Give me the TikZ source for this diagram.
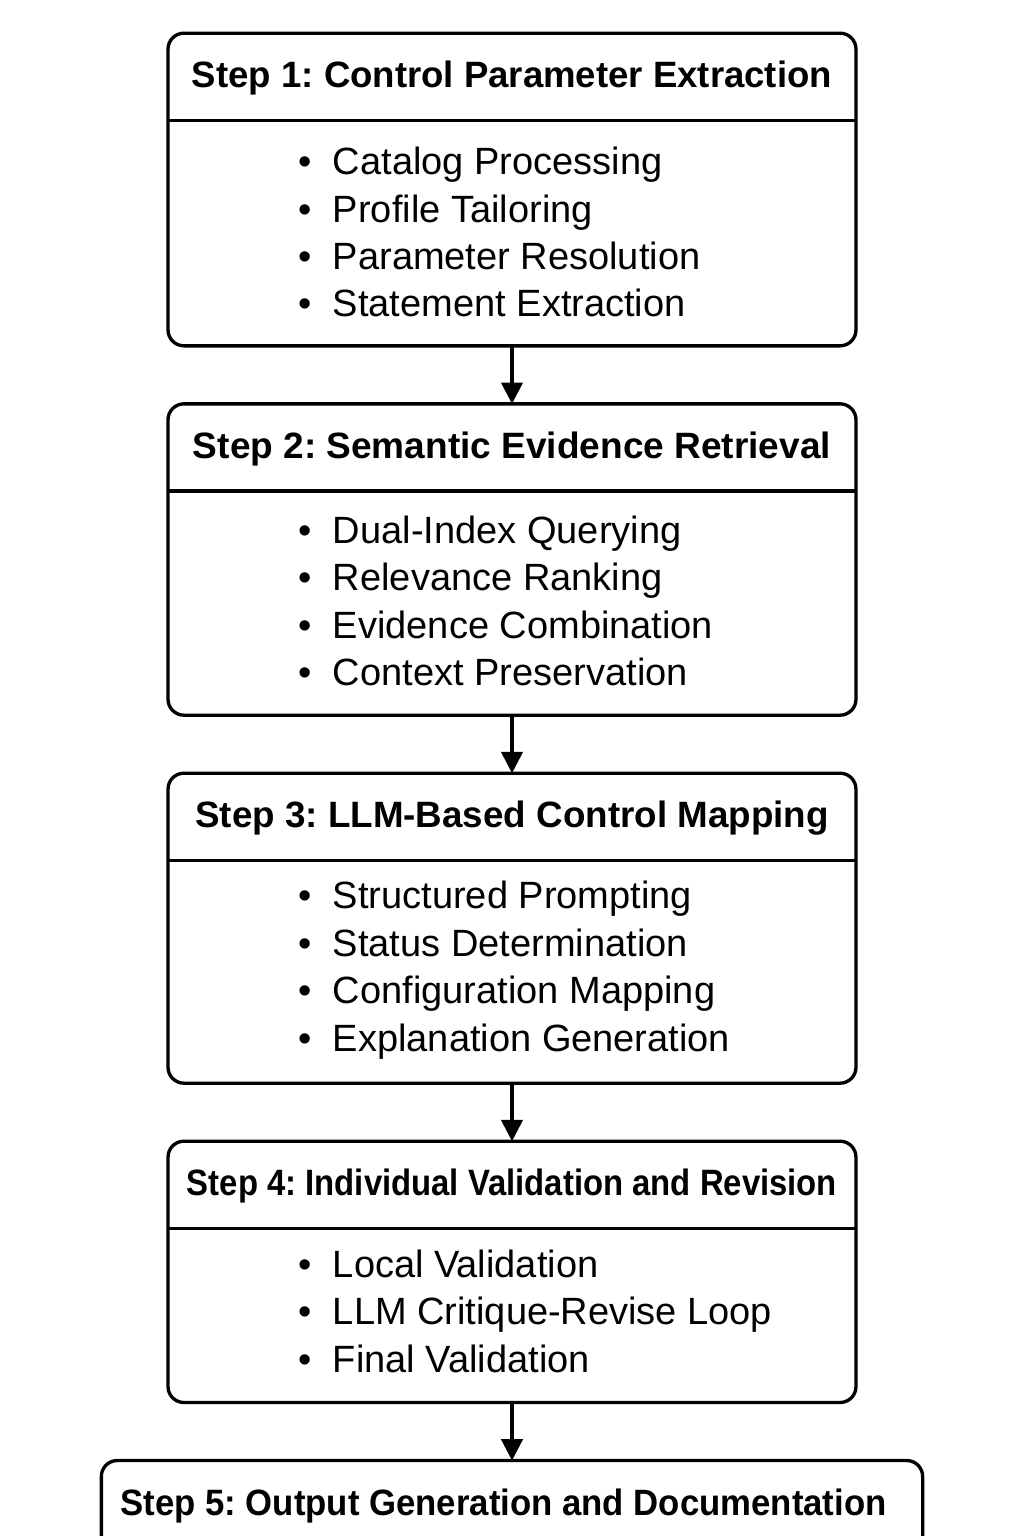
\documentclass[tikz,border=0pt]{standalone}
\usepackage{fontspec}
\setmainfont{Liberation Sans}
\usepackage{graphicx}
\usepackage{tikz}
\usetikzlibrary{arrows.meta,calc,positioning}
\frenchspacing
\tikzstyle{arrow}=[
  color=black,
  draw=black,
  line width=2.4pt,
]
\tikzstyle{stepbox}=[
  rectangle,
  draw,
  rounded corners=12pt,
  line width=2.5pt,
  minimum width=516pt,
  inner sep=0pt,
  outer sep=0pt,
]
\tikzstyle{steptitle}=[
  font={\fontsize{27.5pt}{30pt}\selectfont\bfseries},
  inner sep=0pt,
]
\tikzstyle{steplist}=[
  font={\fontsize{28.5pt}{35.6pt}\selectfont},
  align=left,
  anchor=west,
  inner sep=0pt,
]
\tikzset{
  node distance=43.5pt,
  >={Triangle[width=16pt,length=16pt]},
}
\newcommand{\stepname}[2]{\resizebox{#1}{\height}{#2}}
\newcommand{\bul}{\makebox[26pt][l]{\textbullet}}

\begin{document}
\begin{tikzpicture}[x=0.75pt,y=-0.75pt]
      \useasboundingbox (0,0) rectangle (1024,1536);
      \clip (0,0) rectangle (1024,1536);
      % boxes
      \node [stepbox, minimum height=234.5pt] (STEP1) at (512,189.5) {};
      \node [stepbox, minimum height=233.5pt, below=of STEP1] (STEP2) {};
      \node [stepbox, minimum height=232.5pt, below=of STEP2] (STEP3) {};
      \node [stepbox, minimum height=196pt, below=of STEP3] (STEP4) {};
      \node [stepbox, minimum width=616pt, minimum height=160pt, below=of STEP4] (STEP5) {};
      % title rows
      \foreach \s in {1,...,4}
        \draw [line width=2.5pt] ($(STEP\s.north west)+(0,87)$) -- ($(STEP\s.north east)+(0,87)$);
      \node [steptitle] (TITLE1) at ($(STEP1.north)+(0,45)$) {\stepname{480pt}{Step 1: Control Parameter Extraction}};
      \node [steptitle] (TITLE2) at ($(STEP2.north)+(0,45)$) {\stepname{478.5pt}{Step 2: Semantic Evidence Retrieval}};
      \node [steptitle] (TITLE3) at ($(STEP3.north)+(0,45)$) {\stepname{475pt}{Step 3: LLM-Based Control Mapping}};
      \node [steptitle] (TITLE4) at ($(STEP4.north)+(0,45)$) {\stepname{487.5pt}{Step 4: Individual Validation and Revision}};
      \node [steptitle] (TITLE5) at ($(STEP5.north)+(-8.5,45)$) {\stepname{574.5pt}{Step 5: Output Generation and Documentation}};
      % lists
      \node [steplist] (LIST1) at ($(STEP1.north west)+(130,199)$)
        {\bul Catalog Processing\\ \bul Profile Tailoring\\ \bul Parameter Resolution\\ \bul Statement Extraction};
      \node [steplist] (LIST2) at ($(STEP2.north west)+(130,197)$)
        {\bul Dual-Index Querying\\ \bul Relevance Ranking\\ \bul Evidence Combination\\ \bul Context Preservation};
      \node [steplist] (LIST3) at ($(STEP3.north west)+(130,197)$)
        {\bul Structured Prompting\\ \bul Status Determination\\ \bul Configuration Mapping\\ \bul Explanation Generation};
      \node [steplist] (LIST4) at ($(STEP4.north west)+(130,170)$)
        {\bul Local Validation\\ \bul LLM Critique-Revise Loop\\ \bul Final Validation};
      % arrows
      \draw [arrow, ->] (STEP1) -- (STEP2);
      \draw [arrow, ->] (STEP2) -- (STEP3);
      \draw [arrow, ->] (STEP3) -- (STEP4);
      \draw [arrow, ->] (STEP4) -- (STEP5);
    \end{tikzpicture}
\end{document}
